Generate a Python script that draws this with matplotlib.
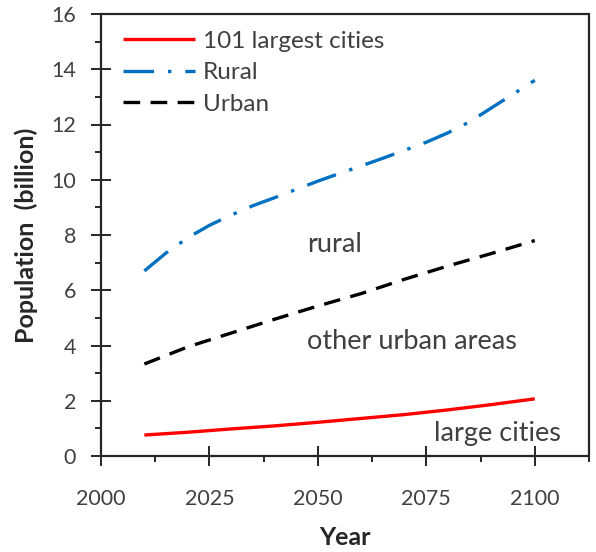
import matplotlib
matplotlib.use("Agg")
import matplotlib.pyplot as plt
from matplotlib.patches import Rectangle
from matplotlib.ticker import MultipleLocator

# ── Data ─────────────────────────────────────────────────────
years_10 = [2010, 2020, 2030, 2040, 2050, 2060, 2070, 2080, 2090, 2100]
largest_cities = [0.76, 0.86, 0.98, 1.09, 1.22, 1.36, 1.50, 1.67, 1.86, 2.07]
urban = [3.33, 3.95, 4.45, 4.95, 5.43, 5.88, 6.40, 6.88, 7.33, 7.80]

years_5 = [2010, 2015, 2020, 2025, 2030, 2035, 2040, 2045, 2050, 2055,
           2060, 2065, 2070, 2075, 2080, 2085, 2090, 2095, 2100]
rural = [6.70, 7.35, 7.90, 8.35, 8.72, 9.06, 9.35, 9.65, 9.95, 10.23,
         10.50, 10.78, 11.07, 11.36, 11.70, 12.10, 12.60, 13.10, 13.60]

region_labels = ["rural", "other urban areas", "large cities"]
region_pos = [(2053.8, 7.64), (2071.7, 4.13), (2091.3, 0.83)]

# ── Style ────────────────────────────────────────────────────
plt.rcParams.update({
    "font.family": "Lato",
    "lines.scale_dashes": False,
    "axes.linewidth": 1.4,
})
grey = "#404040"
dark = "#262626"

fig = plt.figure(figsize=(5.96, 5.52), dpi=100)
ax = fig.add_axes([101 / 596, 1 - 456 / 552, 488 / 596, 442 / 552])
for sp in ax.spines.values():
    sp.set_visible(True)
    sp.set_color(dark)

ax.plot(years_10, largest_cities, color="#FF0000", lw=2.4,
        solid_capstyle="butt", label="101 largest cities")
ax.plot(years_5, rural, color="#0070C0", lw=2.4, dash_capstyle="butt",
        ls=(0, (22, 10, 2.5, 10)), label="Rural")
ax.plot(years_10, urban, color="black", lw=2.4, dash_capstyle="butt",
        ls=(0, (12, 7.5)), label="Urban")

for txt, (x, y) in zip(region_labels, region_pos):
    ax.text(x, y, txt, fontsize=19.5, color=grey, ha="center", va="center")

ax.set_xlim(2000, 2112.5)
ax.set_ylim(0, 16)
ax.xaxis.set_major_locator(MultipleLocator(25))
ax.xaxis.set_minor_locator(MultipleLocator(12.5))
ax.yaxis.set_major_locator(MultipleLocator(2))
ax.yaxis.set_minor_locator(MultipleLocator(1))

ax.tick_params(which="major", direction="inout", length=14, width=1.4,
               labelsize=15.5, labelcolor=grey, color=dark)
ax.tick_params(which="minor", direction="out", length=4.5, width=1.4,
               color=dark)
ax.tick_params(axis="x", which="major", pad=17)
ax.tick_params(axis="y", which="major", pad=11)

ax.set_xlabel("Year", fontsize=18, fontweight="bold", color=dark, labelpad=12)
ax.set_ylabel("Population  (billion)", fontsize=18, fontweight="bold",
              color=dark, labelpad=9.5)

leg = ax.legend(loc="upper left", frameon=False, fontsize=17.5,
                handlelength=2.96, handletextpad=0.33, labelspacing=0.43,
                borderpad=0, borderaxespad=0,
                bbox_to_anchor=(0.045, 0.962))
for t in leg.get_texts():
    t.set_color(grey)

# box outline around the plotting area
ax.add_patch(Rectangle((0, 0), 1, 1, transform=ax.transAxes, fill=False,
                       ec=dark, lw=1.6, clip_on=False, zorder=10))

fig.savefig("out.png", dpi=100)
